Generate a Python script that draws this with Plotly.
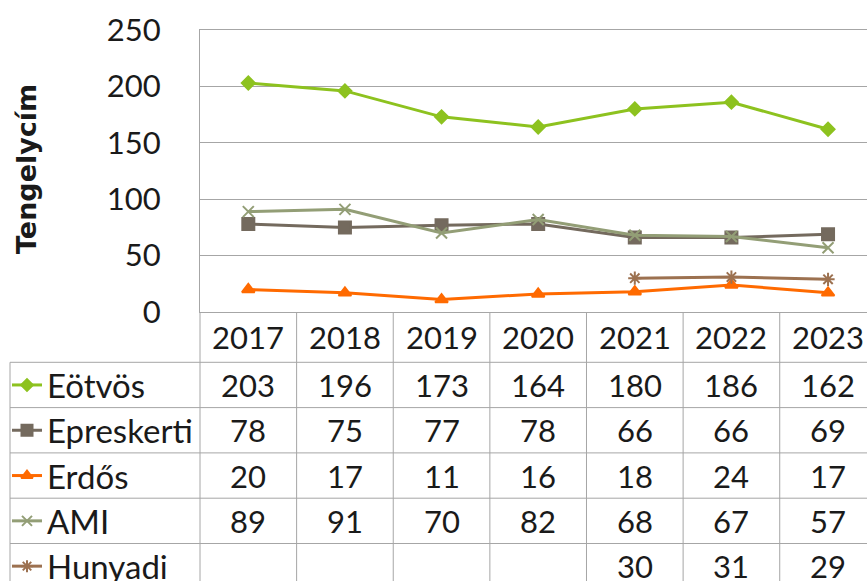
import plotly.graph_objects as go

years = ["2017", "2018", "2019", "2020", "2021", "2022", "2023"]
names = ["Eötvös", "Epreskerti", "Erdős", "AMI", "Hunyadi"]
eotvos = [203, 196, 173, 164, 180, 186, 162]
epreskerti = [78, 75, 77, 78, 66, 66, 69]
erdos = [20, 17, 11, 16, 18, 24, 17]
ami = [89, 91, 70, 82, 68, 67, 57]
hunyadi = [None, None, None, None, 30, 31, 29]
series = [eotvos, epreskerti, erdos, ami, hunyadi]

colors = ["#8DC21F", "#746A5E", "#FF6A00", "#939E76", "#9C7150"]
symbols = ["diamond", "square", "triangle-up", "x-thin-open", "asterisk-open"]
msizes = [10, 12, 11, 11, 11]

W, H = 867, 581
PL, PT, PB = 200, 30, 312  # plot area edges in pixels
X0, DX = 248, 96.67  # pixel centre of first category, category width
YMAX = 250

FONT = "Lato, 'DejaVu Sans', sans-serif"
TXT = "#1a1a1a"
GRID = "#a6a6a6"


def dx(px):  # pixel x -> category axis value
    return (px - X0) / DX


fig = go.Figure()

for name, vals, c, s, ms in zip(names, series, colors, symbols, msizes):
    fig.add_trace(go.Scatter(
        x=list(range(len(years))), y=vals, name=name, mode="lines+markers",
        line=dict(color=c, width=3),
        marker=dict(symbol=s, size=ms, color=c, line=dict(color=c, width=2)),
        connectgaps=False, showlegend=False,
    ))

# table geometry (pixel overlay axes x2/y2)
row_top = [312.3, 362.3, 407.6, 452.9, 498.2, 543.5, 588.8]
shapes = []
for yy in row_top[1:-1]:
    shapes.append(dict(type="line", xref="x2", yref="y2", x0=10, x1=W,
                       y0=yy, y1=yy, line=dict(color=GRID, width=1)))
shapes.append(dict(type="line", xref="x2", yref="y2", x0=10, x1=10,
                   y0=362.3, y1=H + 5, line=dict(color=GRID, width=1)))
shapes.append(dict(type="line", xref="x2", yref="y2", x0=PL, x1=PL,
                   y0=PB, y1=H + 5, line=dict(color=GRID, width=1)))
for i in range(len(years) - 1):
    shapes.append(dict(type="line", xref="x", yref="y2",
                       x0=i + 0.5, x1=i + 0.5, y0=PB, y1=H + 5,
                       line=dict(color=GRID, width=1)))

ann = []
hdr_c = (row_top[0] + row_top[1]) / 2
for i, yr in enumerate(years):
    ann.append(dict(x=i, y=hdr_c, xref="x", yref="y2", text=yr,
                    showarrow=False, font=dict(size=31, color=TXT, family=FONT)))

for r, (name, vals, c, s, ms) in enumerate(zip(names, series, colors, symbols, msizes)):
    cy = (row_top[r + 1] + row_top[r + 2]) / 2
    ann.append(dict(x=45, y=cy, xref="x2", yref="y2", text=name,
                    xanchor="left", showarrow=False,
                    font=dict(size=33, color=TXT, family=FONT)))
    fig.add_trace(go.Scatter(
        x=[12, 42], y=[cy, cy], xaxis="x2", yaxis="y2", mode="lines",
        line=dict(color=c, width=3), showlegend=False, hoverinfo="skip"))
    fig.add_trace(go.Scatter(
        x=[27], y=[cy], xaxis="x2", yaxis="y2", mode="markers",
        marker=dict(symbol=s, size=ms - 1, color=c, line=dict(color=c, width=2)),
        showlegend=False, hoverinfo="skip"))
    for i, v in enumerate(vals):
        if v is not None:
            ann.append(dict(x=i, y=cy, xref="x", yref="y2", text=str(v),
                            showarrow=False,
                            font=dict(size=31, color=TXT, family=FONT)))

ann.append(dict(x=26, y=(PT + PB) / 2 - 2, xref="x2", yref="y2",
                text="<b>Tengelycím</b>", textangle=-90, showarrow=False,
                font=dict(size=27, color=TXT, family="'DejaVu Sans', sans-serif")))

fig.update_layout(
    width=W, height=H,
    margin=dict(l=0, r=0, t=0, b=0, autoexpand=False),
    paper_bgcolor="white", plot_bgcolor="rgba(0,0,0,0)",
    xaxis=dict(domain=[PL / W, 1], range=[-0.5, dx(W)], showticklabels=False,
               showgrid=False, zeroline=False, showline=True, mirror=True,
               linecolor=GRID, linewidth=1),
    yaxis=dict(domain=[(H - PB) / H, (H - PT) / H], range=[0, YMAX],
               tick0=0, dtick=50, showgrid=True,
               gridcolor=GRID, gridwidth=1, zeroline=False,
               showline=True, linecolor=GRID, linewidth=1,
               ticklabelstandoff=32,
               tickfont=dict(size=31, color=TXT, family=FONT)),
    xaxis2=dict(domain=[0, 1], range=[0, W], visible=False, anchor="y2"),
    yaxis2=dict(domain=[0, 1], range=[H, 0], visible=False, anchor="x2"),
    shapes=shapes,
    annotations=ann,
)

fig.write_html("out.html", config={"displayModeBar": False},
               post_script="document.body.style.margin='0';")
